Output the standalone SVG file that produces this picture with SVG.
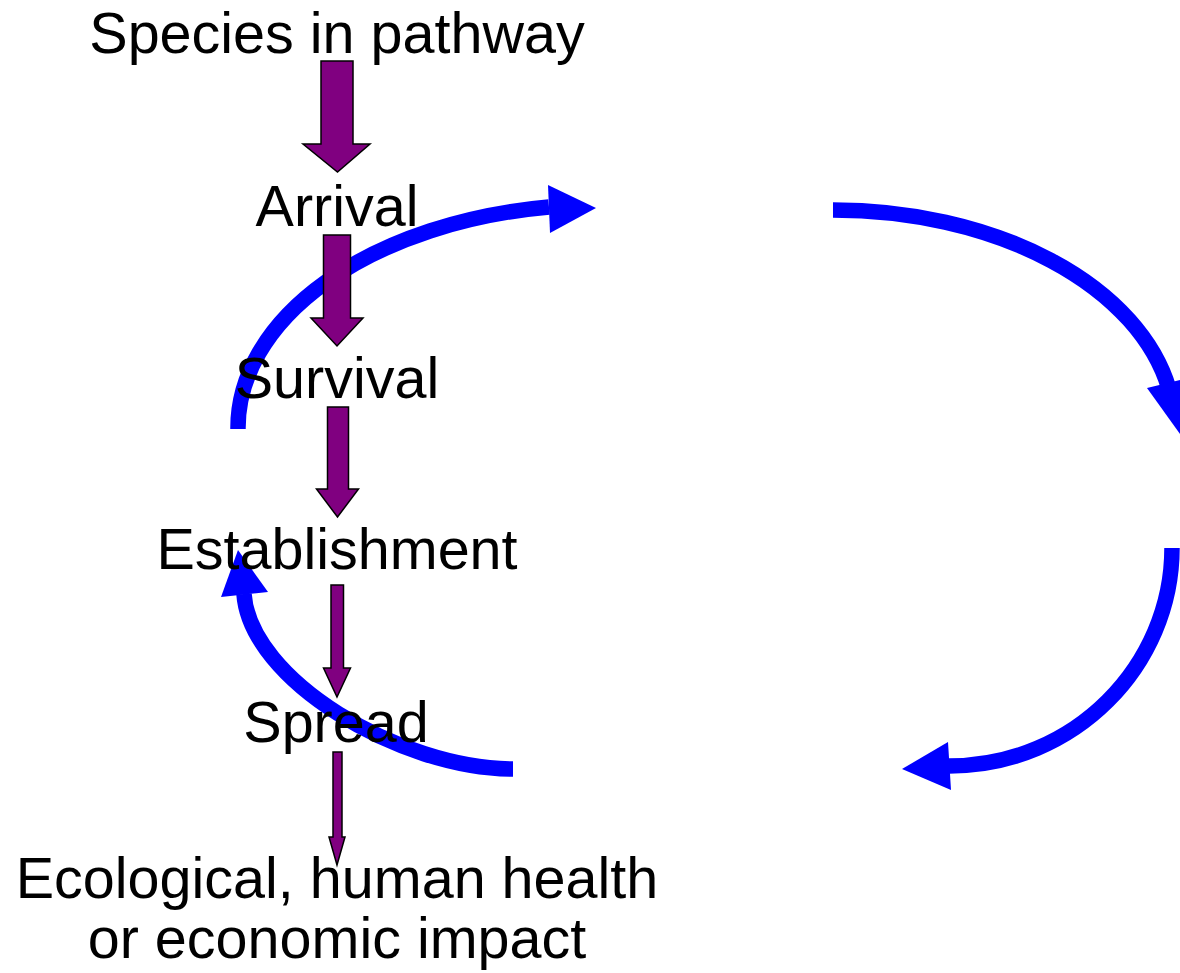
<svg xmlns="http://www.w3.org/2000/svg" width="1180" height="973" viewBox="0 0 1180 973">
<style>
.arc{fill:none;stroke:#0000FF;stroke-width:15.5;stroke-linecap:butt}
.head{fill:#0000FF;stroke:none}
.step{fill:#800080;stroke:#000;stroke-width:1.5;stroke-linejoin:miter}
.lbl{font-family:"Liberation Sans",Arial,sans-serif;font-size:57.5px;fill:#000;text-anchor:middle}
</style>
<rect width="1180" height="973" fill="#fff"/>
<g id="cycle">
  <path class="arc" d="M238 429 A362 223 0 0 1 549 207"/>
  <polygon class="head" points="548,185 550,233 596,208"/>
  <path class="arc" d="M833 210 A342 220 0 0 1 1169 389"/>
  <polygon class="head" points="1147,388 1193,377 1180,434"/>
  <path class="arc" d="M1172 548 C1172 665 1075 766 949 766"/>
  <polygon class="head" points="948,742 951,790 902,769"/>
  <path class="arc" d="M513 769 C400 769 250 680 244 594"/>
  <polygon class="head" points="221,597 268,592 238,550"/>
</g>
<g id="connectors">
  <polygon id="a1" class="step" points="321,61 353,61 353,144 370,144 337.5,172 303,144 321,144"/>
  <polygon id="a2" class="step" points="323.5,235 350.5,235 350.5,318 363,318 337,346 311,318 323.5,318"/>
  <polygon id="a3" class="step" points="327.5,407 348.5,407 348.5,489 358.5,489 337.5,517 316.5,489 327.5,489"/>
  <polygon id="a4" class="step" points="331,585 343.5,585 343.5,668 350.5,668 337,697 323.5,668 331,668"/>
  <polygon id="a5" class="step" points="333,752 342,752 342,837 345,837 337,865 329,837 333,837"/>
</g>
<g id="n-species"><text class="lbl" x="337" y="53">Species in pathway</text></g>
<g id="n-arrival"><text class="lbl" x="337" y="226">Arrival</text></g>
<g id="n-survival"><text class="lbl" x="337" y="398">Survival</text></g>
<g id="n-establishment"><text class="lbl" x="337" y="569">Establishment</text></g>
<g id="n-spread"><text class="lbl" x="336" y="742">Spread</text></g>
<g id="n-impact"><text class="lbl" x="337" y="898">Ecological, human health</text><text class="lbl" x="337" y="958">or economic impact</text></g>
</svg>
